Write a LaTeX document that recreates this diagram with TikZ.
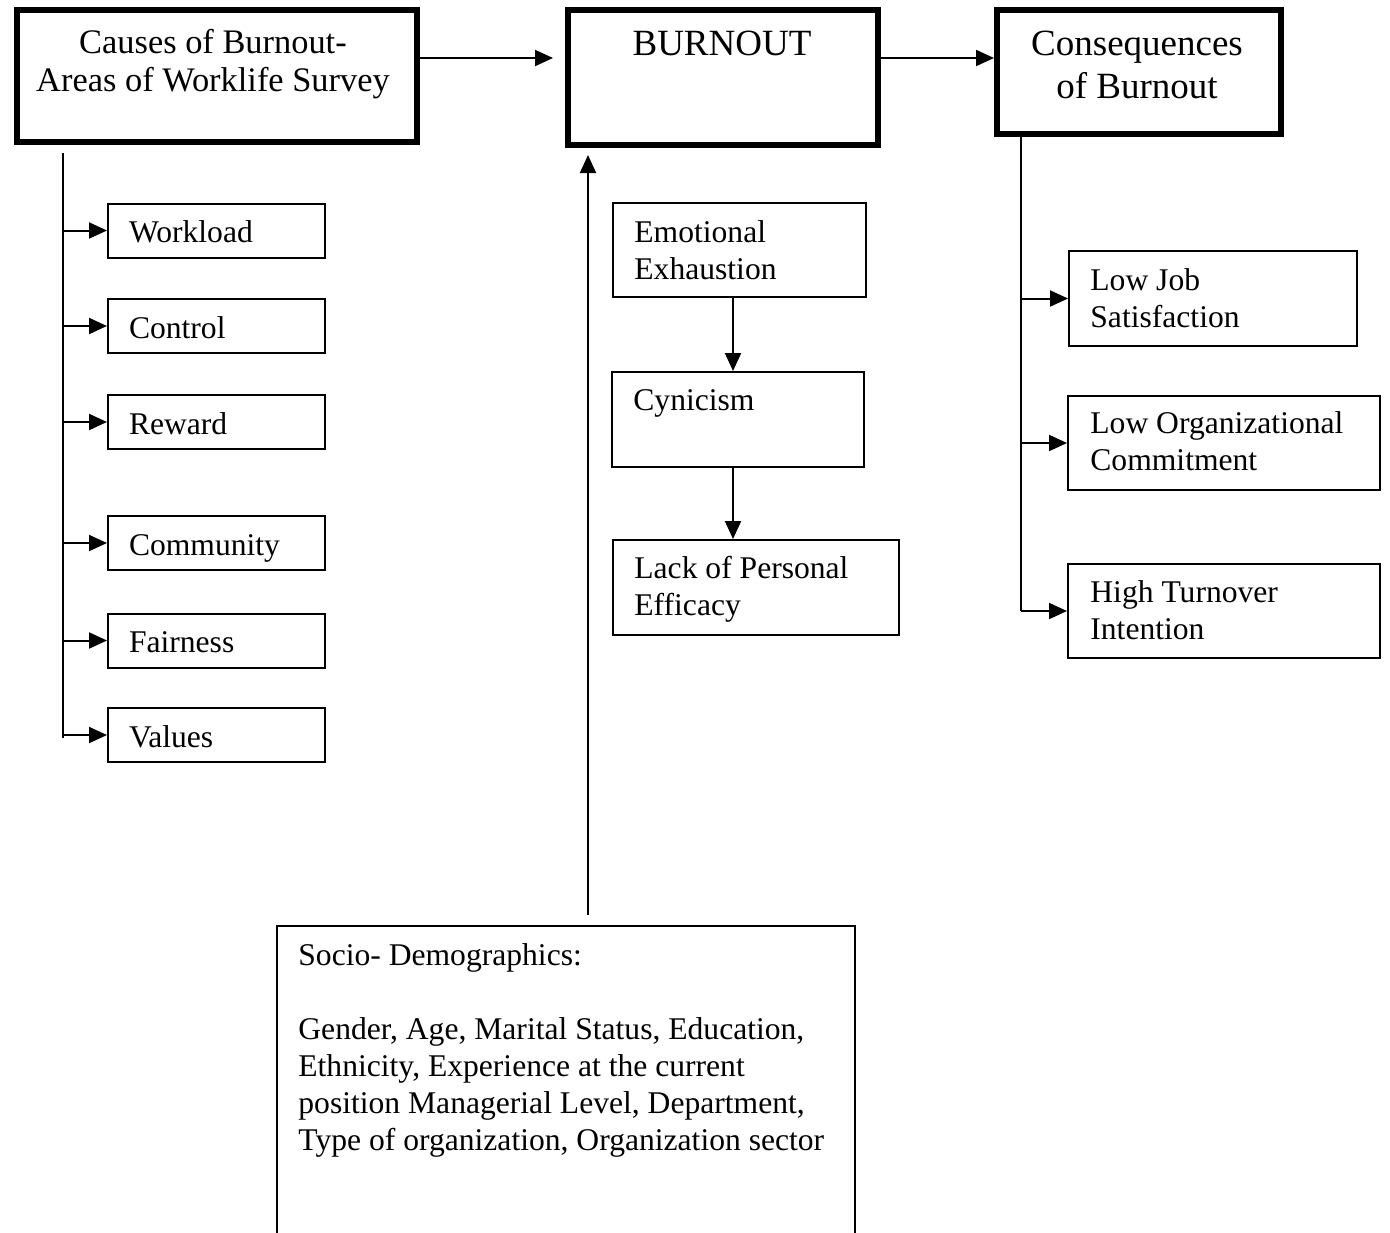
\documentclass[tikz,border=0pt]{standalone}
\usepackage{fontspec}
\setmainfont{Liberation Serif}
\usetikzlibrary{arrows.meta}

\tikzset{
  thickbox/.style={draw, line width=3pt, inner sep=0pt},
  thinbox/.style={draw, line width=1pt, inner sep=0pt},
  itembox/.style={thinbox, minimum height=27pt, text width=87.5pt, inner xsep=10.5pt,
                  inner ysep=0pt, text height=13.5pt, text depth=1.5pt, align=left,
                  font=\fontsize{15.8pt}{18.5pt}\selectfont},
  txt/.style={inner sep=0pt, anchor=base west, font=\fontsize{15.8pt}{18.5pt}\selectfont},
  link/.style={line width=1pt, -{Triangle[length=9pt,width=8pt]}},
  trunk/.style={line width=1pt},
}

\begin{document}
\begin{tikzpicture}[x=0.5pt, y=-0.5pt]
  \fill[white] (0,0) rectangle (1390,1232);
  \useasboundingbox (0,0) rectangle (1390,1232);

  % main boxes
  \node[thickbox, minimum width=200pt, minimum height=66pt] (causes) at (217,76) {};
  \node[inner sep=0pt, anchor=base, font=\fontsize{17.2pt}{19pt}\selectfont] (causestxt) at (213,53)
    {\begin{tabular}[t]{@{}c@{}}Causes of Burnout-\\Areas of Worklife Survey\end{tabular}};

  \node[thickbox, minimum width=155pt, minimum height=67.5pt] (burnout) at (723,77.5) {};
  \node[inner sep=0pt, anchor=base, font=\fontsize{18.5pt}{21.5pt}\selectfont] (burnouttxt) at (722,55) {BURNOUT};

  \node[thickbox, minimum width=142pt, minimum height=62pt] (cons) at (1139,72) {};
  \node[inner sep=0pt, anchor=base, font=\fontsize{18.5pt}{21.5pt}\selectfont] (constxt) at (1137,55)
    {\begin{tabular}[t]{@{}c@{}}Consequences\\of Burnout\end{tabular}};

  % links between main boxes
  \coordinate (ay) at (0,58);
  \draw[link, shorten >=6pt] (causes.east |- ay) -- (burnout.west |- ay);
  \draw[link] (burnout.east |- ay) -- (cons.west |- ay);

  % areas of worklife
  \node[itembox] (wl)  at (216.5,230.5) {Workload};
  \node[itembox] (ctl) at (216.5,326)   {Control};
  \node[itembox] (rw)  at (216.5,422)   {Reward};
  \node[itembox] (cm)  at (216.5,543)   {Community};
  \node[itembox] (fr)  at (216.5,640.5) {Fairness};
  \node[itembox] (vl)  at (216.5,735)   {Values};

  \coordinate (ltop) at (63,153);
  \coordinate (lbot) at (63,738);
  \draw[trunk] (ltop) -- (lbot);
  \foreach \n in {wl,ctl,rw,cm,fr,vl}
    \draw[link] (ltop |- \n.west) -- (\n.west);

  % burnout dimensions
  \node[thinbox, minimum width=126.5pt, minimum height=47pt]   (ee) at (739.5,250) {};
  \node[txt] (eetxt) at (634,242) {\begin{tabular}[t]{@{}l@{}}Emotional\\Exhaustion\end{tabular}};
  \node[thinbox, minimum width=126pt, minimum height=47.5pt]   (cy) at (738,419.5) {};
  \node[txt] (cytxt) at (633,410) {Cynicism};
  \node[thinbox, minimum width=143pt, minimum height=47.5pt]   (lp) at (756,587.5) {};
  \node[txt] (lptxt) at (634,578) {\begin{tabular}[t]{@{}l@{}}Lack of Personal\\Efficacy\end{tabular}};

  \coordinate (mx) at (733,0);
  \draw[link] (mx |- ee.south) -- (mx |- cy.north);
  \draw[link] (mx |- cy.south) -- (mx |- lp.north);

  % consequences
  \node[thinbox, minimum width=144pt, minimum height=47.5pt] (ljs) at (1213,298.5) {};
  \node[txt] (ljstxt) at (1090,290) {\begin{tabular}[t]{@{}l@{}}Low Job\\Satisfaction\end{tabular}};
  \node[thinbox, minimum width=156pt, minimum height=47pt] (loc) at (1224,443) {};
  \node[txt] (loctxt) at (1090,433) {\begin{tabular}[t]{@{}l@{}}Low Organizational\\Commitment\end{tabular}};
  \node[thinbox, minimum width=156pt, minimum height=47pt] (hti) at (1224,611) {};
  \node[txt] (htitxt) at (1090,602) {\begin{tabular}[t]{@{}l@{}}High Turnover\\Intention\end{tabular}};

  \coordinate (rx) at (1021,0);
  \draw[trunk] (rx |- cons.south) -- (rx |- hti.west);
  \foreach \n in {ljs,loc,hti}
    \draw[link] (rx |- \n.west) -- (\n.west);

  % socio-demographics
  \node[thinbox, minimum width=289pt, minimum height=167pt] (socio) at (566,1093) {};
  \node[txt] (sociotxt) at (298,965) {\begin{tabular}[t]{@{}l@{}}Socio- Demographics:\\ \\
    Gender, Age, Marital Status, Education,\\
    Ethnicity, Experience at the current\\
    position Managerial Level, Department,\\
    Type of organization, Organization sector\end{tabular}};

  \coordinate (sx) at (588,0);
  \draw[link, shorten <=5pt, shorten >=3.5pt] (sx |- socio.north) -- (sx |- burnout.south);
\end{tikzpicture}
\end{document}
